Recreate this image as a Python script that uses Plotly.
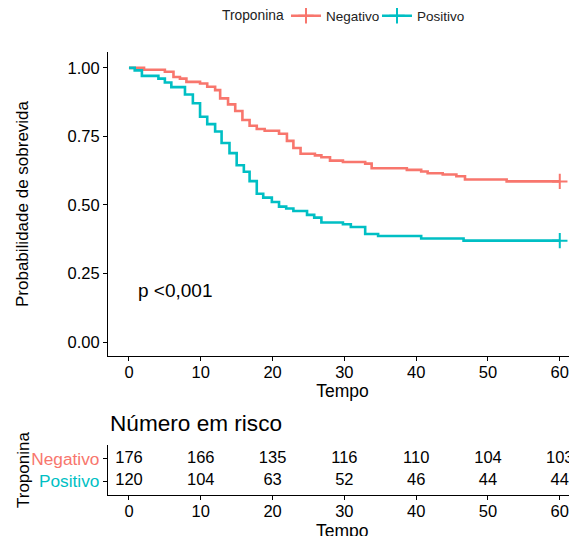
import plotly.graph_objects as go

# ---- data ----
neg_t = [0, 2.1, 5.0, 6.2, 7.1, 8.0, 9.9, 10.9, 12.0, 12.7, 13.8, 14.8, 15.8, 16.8, 17.8, 18.9,
         20.9, 22.0, 22.9, 23.9, 25.9, 26.8, 28.0, 29.8, 32.9, 33.8, 38.7, 40.7, 41.6, 43.7,
         45.6, 46.8, 52.6, 60]
neg_s = [1.0, 0.993, 0.986, 0.967, 0.961, 0.949, 0.943, 0.931, 0.919, 0.889, 0.867, 0.843, 0.810,
         0.789, 0.777, 0.771, 0.760, 0.734, 0.708, 0.687, 0.681, 0.674, 0.662, 0.657, 0.651, 0.634,
         0.628, 0.622, 0.616, 0.611, 0.605, 0.593, 0.586, 0.586]

pos_t = [0, 0.8, 1.8, 4.1, 5.0, 5.9, 7.8, 8.9, 9.9, 10.9, 12.0, 12.9, 14.0, 15.0, 16.0, 16.8,
         17.8, 18.7, 19.9, 20.9, 21.9, 22.9, 24.8, 25.8, 26.8, 29.8, 30.9, 32.9, 34.7, 40.7,
         46.6, 60]
pos_s = [1.0, 0.991, 0.971, 0.961, 0.947, 0.930, 0.903, 0.871, 0.822, 0.795, 0.768, 0.726, 0.689,
         0.645, 0.621, 0.587, 0.541, 0.527, 0.511, 0.494, 0.487, 0.478, 0.464, 0.454, 0.436, 0.430,
         0.420, 0.394, 0.387, 0.378, 0.370, 0.370]

risk_times = [0, 10, 20, 30, 40, 50, 60]
risk_neg = [176, 166, 135, 116, 110, 104, 103]
risk_pos = [120, 104, 63, 52, 46, 44, 44]

groups = ["Negativo", "Positivo"]
y_ticks = [0, 0.25, 0.5, 0.75, 1.0]
x_ticks = [0, 10, 20, 30, 40, 50, 60]

RED = "#F8766D"
TEAL = "#00BFC4"
FONT = "Liberation Sans, Arial, sans-serif"

fig = go.Figure()

for name, t, s, c in [("Negativo", neg_t, neg_s, RED), ("Positivo", pos_t, pos_s, TEAL)]:
    fig.add_trace(go.Scatter(x=t, y=s, mode="lines", line=dict(color=c, width=2.6, shape="hv"),
                             legendgroup=name, showlegend=False, hoverinfo="skip",
                             xaxis="x", yaxis="y"))
    fig.add_trace(go.Scatter(x=[t[-1]], y=[s[-1]], mode="lines+markers", name=name,
                             legendgroup=name,
                             line=dict(color=c, width=2.6),
                             marker=dict(symbol="cross-thin", size=11,
                                         line=dict(width=2, color=c), color=c),
                             hoverinfo="skip", xaxis="x", yaxis="y"))

# risk table
for vals, yv in [(risk_neg, 1), (risk_pos, 0)]:
    fig.add_trace(go.Scatter(x=risk_times, y=[yv] * len(risk_times), mode="text",
                             text=[str(v) for v in vals], textposition="middle center",
                             textfont=dict(size=16.5, color="black", family=FONT),
                             showlegend=False, hoverinfo="skip", xaxis="x2", yaxis="y2"))

axis_common = dict(showline=True, linecolor="black", linewidth=1.2, ticks="outside",
                   ticklen=4, tickwidth=1.1, tickcolor="black", showgrid=False,
                   zeroline=False, automargin=False,
                   tickfont=dict(size=16.5, color="black", family=FONT))

XR = [-2.92, 62.4]

fig.update_layout(
    width=569, height=528,
    margin=dict(l=100, r=0, t=44, b=41, autoexpand=False),
    paper_bgcolor="white", plot_bgcolor="white",
    font=dict(family=FONT, color="black"),
    xaxis=dict(domain=[0, 1], range=XR, tickvals=x_ticks, anchor="y", ticklabelstandoff=-3,
               title=dict(text="Tempo", font=dict(size=17.5), standoff=0), **axis_common),
    yaxis=dict(domain=[0.3138, 1], range=[-0.0507, 1.058], tickvals=y_ticks,
               ticktext=[f"{v:.2f}" for v in y_ticks], anchor="x",
               title=dict(text="Probabilidade de sobrevida", font=dict(size=17), standoff=34),
               **axis_common),
    xaxis2=dict(domain=[0, 1], range=XR, tickvals=x_ticks, anchor="y2", ticklabelstandoff=-3,
                **axis_common),
    yaxis2=dict(domain=[0, 0.1129], range=[-0.6, 1.6], tickvals=[1, 0],
                ticktext=[f'<span style="color:{RED}">{groups[0]}</span>',
                          f'<span style="color:{TEAL}">{groups[1]}</span>'],
                anchor="x2",
                **{**axis_common, "tickfont": dict(size=17.3, family=FONT)}),
    legend=dict(orientation="h", x=0.3795, xanchor="left", y=1.0813, yanchor="middle",
                entrywidth=46, entrywidthmode="pixels",
                font=dict(size=13.5, color="#222"), bgcolor="rgba(0,0,0,0)"),
    annotations=[
        dict(text="Troponina", x=0.2388, y=1.0813, xref="paper", yref="paper",
             xanchor="left", yanchor="middle", showarrow=False,
             font=dict(size=13.8, color="#222")),
        dict(text="p <0,001", x=1.0, y=0.188, xref="x", yref="y", xanchor="left",
             yanchor="middle", showarrow=False, font=dict(size=19, color="black")),
        dict(text="Número em risco", x=0, y=0.1625, xref="paper", yref="paper",
             xanchor="left", yanchor="middle", showarrow=False,
             font=dict(size=22.6, color="black")),
        # risk-table axis titles
        dict(text="Tempo", x=0.5, y=-0.0813, xref="paper", yref="paper",
             xanchor="center", yanchor="middle", showarrow=False,
             font=dict(size=17.5, color="black")),
        dict(text="Troponina", x=-0.179, y=0.0565, xref="paper", yref="paper",
             xanchor="center", yanchor="middle", textangle=-90, showarrow=False,
             font=dict(size=17, color="black")),
    ],
)

fig.write_html("out.html")
